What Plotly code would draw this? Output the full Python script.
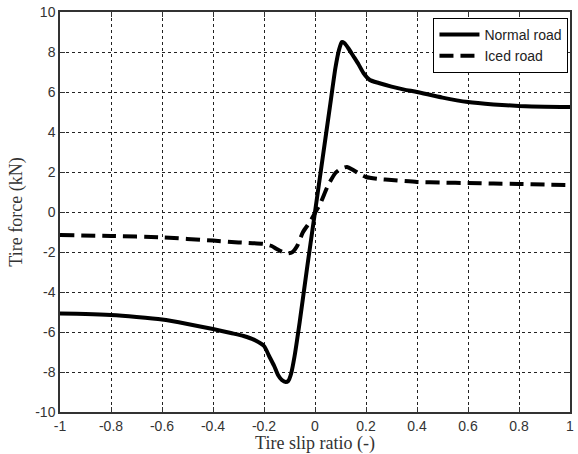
import plotly.graph_objects as go

# ---- data ----
slip_normal = [-1.0, -0.9, -0.8, -0.7, -0.6, -0.5, -0.4, -0.33, -0.28, -0.24, -0.2, -0.18,
               -0.16, -0.145, -0.13, -0.115, -0.105, -0.094, -0.08, -0.06, -0.03, 0.0,
               0.03, 0.06, 0.08, 0.094, 0.105, 0.115, 0.13, 0.15, 0.17, 0.19, 0.215, 0.25,
               0.3, 0.35, 0.4, 0.5, 0.6, 0.7, 0.8, 0.9, 1.0]
force_normal = [-5.08, -5.1, -5.15, -5.25, -5.38, -5.6, -5.85, -6.05, -6.2, -6.38, -6.7, -7.2,
                -7.7, -8.15, -8.4, -8.5, -8.45, -8.1, -7.2, -5.5, -2.7, 0.0,
                2.7, 5.4, 7.2, 8.1, 8.5, 8.45, 8.2, 7.8, 7.4, 6.95, 6.6, 6.45,
                6.27, 6.12, 6.0, 5.72, 5.5, 5.38, 5.3, 5.26, 5.25]

slip_iced = [-1.0, -0.8, -0.6, -0.4, -0.3, -0.2, -0.17, -0.15, -0.13, -0.106, -0.09, -0.07,
             -0.047, -0.02, 0.0, 0.02, 0.05, 0.08, 0.1, 0.125, 0.15, 0.175, 0.2, 0.25,
             0.3, 0.4, 0.5, 0.6, 0.7, 0.8, 0.9, 1.0]
force_iced = [-1.15, -1.2, -1.27, -1.43, -1.52, -1.6, -1.7, -1.85, -1.98, -2.07, -2.02, -1.7,
              -1.0, -0.5, -0.05, 0.4, 1.3, 1.95, 2.15, 2.25, 2.1, 1.9, 1.75, 1.65,
              1.6, 1.5, 1.47, 1.45, 1.42, 1.4, 1.37, 1.35]

x_ticks = [-1, -0.8, -0.6, -0.4, -0.2, 0, 0.2, 0.4, 0.6, 0.8, 1]
x_ticklabels = ["-1", "-0.8", "-0.6", "-0.4", "-0.2", "0", "0.2", "0.4", "0.6", "0.8", "1"]
y_ticks = [-10, -8, -6, -4, -2, 0, 2, 4, 6, 8, 10]
y_ticklabels = [str(v) for v in y_ticks]

fig = go.Figure()
fig.add_trace(go.Scatter(x=slip_normal, y=force_normal, mode="lines", name="Normal road",
                         line=dict(color="black", width=4, shape="spline", smoothing=0.6)))
fig.add_trace(go.Scatter(x=slip_iced, y=force_iced, mode="lines", name="Iced road",
                         line=dict(color="black", width=4, dash="14px,7px", shape="spline", smoothing=0.6)))

axis_common = dict(
    automargin=False,
    showline=True, linecolor="#333", linewidth=1.5, mirror="ticks",
    ticks="inside", ticklen=5, tickcolor="#333", tickwidth=1,
    showgrid=True, gridcolor="#222", gridwidth=1, griddash="3px,3px",
    zeroline=False,
    tickfont=dict(family="Liberation Sans, Arial", size=14, color="#333"),
)

fig.update_xaxes(range=[-1, 1], tickvals=x_ticks, ticktext=x_ticklabels,
                 title=dict(text="Tire slip ratio (-)", standoff=12,
                            font=dict(family="Liberation Serif, Times New Roman", size=18, color="#333")),
                 **axis_common)
fig.update_yaxes(range=[-10, 10], tickvals=y_ticks, ticktext=y_ticklabels,
                 title=dict(text="Tire force (kN)", standoff=8,
                            font=dict(family="Liberation Serif, Times New Roman", size=18, color="#333")),
                 **axis_common)

fig.update_layout(
    width=578, height=454,
    margin=dict(l=60, r=8, t=12, b=42),
    plot_bgcolor="white", paper_bgcolor="white",
    showlegend=True,
    legend=dict(x=0.997, y=0.985, xanchor="right", yanchor="top",
                bgcolor="white", bordercolor="black", borderwidth=1,
                font=dict(family="Liberation Sans, Arial", size=14, color="#222"),
                itemwidth=40, tracegroupgap=2),
)

fig.write_html("out.html")
